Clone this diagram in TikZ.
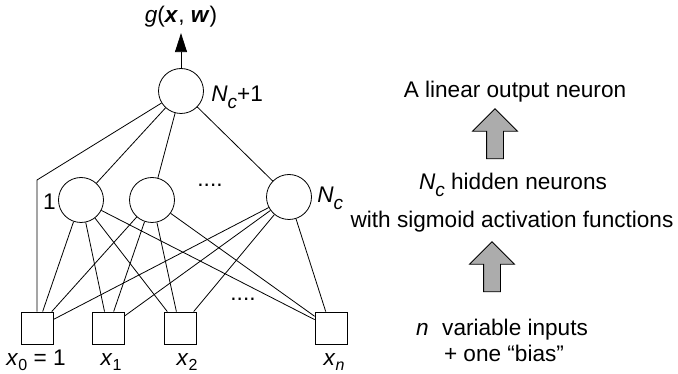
\documentclass[tikz,border=0pt]{standalone}
\usepackage{fontspec}
\setmainfont{Liberation Sans}
\usetikzlibrary{arrows.meta,shapes.arrows}

\newcommand{\Ncount}{\textit{N}\raisebox{-7pt}{\fontsize{19}{19}\selectfont\textit{c}}}
\newcommand{\xin}[1]{\textit{x}\raisebox{-5pt}{\fontsize{16}{16}\selectfont #1}}

\begin{document}
\begin{tikzpicture}[x=1pt, y=-1pt, line width=0.8pt,
    every node/.style={font=\fontsize{22.6}{24}\selectfont},
    neuron/.style={draw, circle, minimum size=45pt, inner sep=0pt},
    entry/.style={draw, minimum size=32pt, inner sep=0pt},
    lbl/.style={inner sep=0pt, anchor=base},
    greyarrow/.style={draw, fill=gray!65, single arrow, shape border rotate=90,
      minimum height=50pt, inner sep=8pt, single arrow head extend=14pt}]
    \useasboundingbox (0,0) rectangle (678,374);
    % network
    \node[neuron] (out) at (181,91) {};
    \node[neuron] (h1) at (81,200) {};
    \node[neuron] (h2) at (152,200) {};
    \node[neuron] (h3) at (289,197) {};
    \node[entry] (x0) at (37,328) {};
    \node[entry] (x1) at (108,328) {};
    \node[entry] (x2) at (180,328) {};
    \node[entry] (xn) at (331,328) {};
    \coordinate (bend) at (37,180);
    \node[lbl] (g) at (181,23) {\textit{g}(\textbf{\textit{x}}, \textbf{\textit{w}})};
    \node[lbl, anchor=base west] (outlbl) at (211,102) {\Ncount+1};
    \node[lbl, anchor=base east] (h1lbl) at (56,210) {1};
    \node[lbl, anchor=base west] (h3lbl) at (317,203) {\Ncount};
    \node[lbl] (hdots) at (210,187) {....};
    \node[lbl] (xdots) at (243,301) {....};
    \node[lbl] (x0lbl) at (36,366) {\xin{0} = 1};
    \node[lbl] (x1lbl) at (111,366) {\xin{1}};
    \node[lbl] (x2lbl) at (187,366) {\xin{2}};
    \node[lbl] (xnlbl) at (334,366) {\xin{\textit{n}}};
    \draw[-{Triangle[length=19pt, width=12pt]}, shorten >=5pt] (out) -- (g);
    \draw (out) -- (h1);
    \draw (out) -- (h2);
    \draw (out) -- (h3);
    \draw (x0) -- (bend) -- (out);
    \draw (h1) -- (x0) (h1) -- (x1) (h1) -- (x2) (h1) -- (xn);
    \draw (h2) -- (x0) (h2) -- (x1) (h2) -- (x2) (h2) -- (xn);
    \draw (h3) -- (x0) (h3) -- (x1) (h3) -- (x2) (h3) -- (xn);
    % explanation
    \node[lbl] (t1) at (515,98) {A linear output neuron};
    \node[greyarrow] (a1) at (495,138) {};
    \node[lbl] (t2) at (513,190) {\Ncount\ hidden neurons};
    \node[lbl] (t3) at (512,228) {with sigmoid activation functions};
    \node[greyarrow] (a2) at (492,271) {};
    \node[lbl] (t4) at (502,335) {\textit{n}\hspace{0.6em}variable inputs};
    \node[lbl] (t5) at (504,362) {+ one “bias”};
  \end{tikzpicture}
\end{document}
